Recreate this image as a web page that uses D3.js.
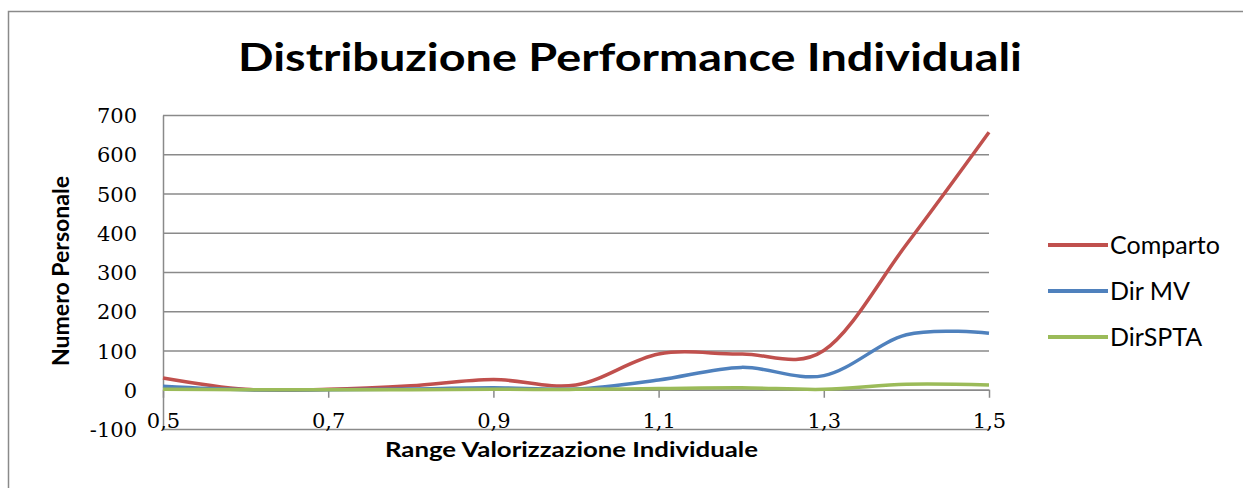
<!DOCTYPE html>
<html>
<head>
<meta charset="utf-8">
<script src="https://cdn.jsdelivr.net/npm/d3@7"></script>
<style>
  body { margin: 0; background: #fff; }
  svg { display: block; }
</style>
</head>
<body>
<div id="chart"></div>
<script>
// data
const xValues = [0.5, 0.6, 0.7, 0.8, 0.9, 1.0, 1.1, 1.2, 1.3, 1.4, 1.5];
const comparto = [30, 1, 1, 10, 26, 12, 91, 91, 100, 370, 656];
const dirMV = [9, 0, 0, 2, 5, 2, 25, 57, 36, 140, 144];
const dirSPTA = [1, 0, 0, 0, 1, 1, 3, 5, 1, 14, 12];
const seriesNames = ['Comparto', 'Dir MV', 'DirSPTA'];
const seriesColors = ['#c0504d', '#4f81bd', '#9bbb59'];
const xTicks = [0.5, 0.7, 0.9, 1.1, 1.3, 1.5];
const yTicks = [-100, 0, 100, 200, 300, 400, 500, 600, 700];

const series = [comparto, dirMV, dirSPTA].map((vals, i) => ({
    name: seriesNames[i],
    color: seriesColors[i],
    points: vals.map((v, j) => ({x: xValues[j], y: v}))
}));

const svgWidth = 1243, svgHeight = 488;
const plot = {left: 163, right: 989, top: 115, bottom: 429};

const svg = d3.select('#chart')
    .append('svg')
    .attr('width', svgWidth)
    .attr('height', svgHeight);

// chart frame (cropped at right and bottom like the reference)
svg.append('rect')
    .attr('x', 8.5).attr('y', 11.5)
    .attr('width', 1400).attr('height', 700)
    .attr('fill', '#fff')
    .attr('stroke', '#8a8a8a')
    .attr('stroke-width', 1.5);

const x = d3.scaleLinear().domain([0.5, 1.5]).range([plot.left, plot.right]);
const y = d3.scaleLinear().domain([-100, 700]).range([plot.bottom, plot.top]);

// title
svg.append('text')
    .attr('x', (238 + 1022) / 2).attr('y', 71)
    .attr('text-anchor', 'middle')
    .attr('textLength', 784).attr('lengthAdjust', 'spacingAndGlyphs')
    .style('font-family', 'Lato, "Open Sans", sans-serif')
    .style('font-weight', 700)
    .style('font-size', '39px')
    .text('Distribuzione Performance Individuali');

// y axis + gridlines
const yAxis = svg.append('g')
    .attr('transform', `translate(${plot.left},0)`)
    .call(d3.axisLeft(y).tickValues(yTicks)
        .tickSize(-(plot.right - plot.left)).tickSizeOuter(0).tickPadding(26)
        .tickFormat(d => String(d)));
yAxis.select('.domain').attr('stroke', '#8a8a8a').attr('stroke-width', 1.5);
yAxis.selectAll('.tick line').attr('stroke', '#8a8a8a').attr('stroke-width', 1.5);
yAxis.selectAll('.tick text')
    .attr('dy', '0.36em')
    .style('font-family', '"DejaVu Serif", serif')
    .style('font-size', '21px')
    .attr('fill', '#000');

// x axis crossing at 0
const xAxis = svg.append('g')
    .attr('transform', `translate(0,${y(0)})`)
    .call(d3.axisBottom(x).tickValues(xTicks).tickSize(8).tickSizeOuter(0)
        .tickFormat(d => d3.format('.1f')(d).replace('.', ',')));
xAxis.select('.domain').attr('stroke', '#8a8a8a').attr('stroke-width', 1.5);
xAxis.selectAll('.tick line').attr('stroke', '#8a8a8a').attr('stroke-width', 1.5);
xAxis.selectAll('.tick text')
    .attr('y', plot.bottom - y(0) - 1)
    .attr('dy', 0)
    .style('font-family', '"DejaVu Serif", serif')
    .style('font-size', '21px')
    .attr('fill', '#000');

// axis titles
svg.append('text')
    .attr('transform', `translate(69,271) rotate(-90)`)
    .attr('text-anchor', 'middle')
    .attr('textLength', 190).attr('lengthAdjust', 'spacingAndGlyphs')
    .style('font-family', 'Lato, "Open Sans", sans-serif')
    .style('font-weight', 700)
    .style('font-size', '22px')
    .text('Numero Personale');

svg.append('text')
    .attr('x', (385 + 758) / 2).attr('y', 457)
    .attr('text-anchor', 'middle')
    .attr('textLength', 373).attr('lengthAdjust', 'spacingAndGlyphs')
    .style('font-family', 'Lato, "Open Sans", sans-serif')
    .style('font-weight', 700)
    .style('font-size', '21px')
    .text('Range Valorizzazione Individuale');

// smoothed lines
const line = d3.line()
    .x(d => x(d.x))
    .y(d => y(d.y))
    .curve(d3.curveCardinal.tension(0));

svg.append('g').selectAll('path')
    .data(series)
    .join('path')
    .attr('d', d => line(d.points))
    .attr('fill', 'none')
    .attr('stroke', d => d.color)
    .attr('stroke-width', 3.5)
    .attr('stroke-linejoin', 'round');

// legend
const legend = svg.append('g')
    .selectAll('g')
    .data(series)
    .join('g')
    .attr('transform', (d, i) => `translate(1048,${245 + i * 46})`);
legend.append('line')
    .attr('x1', 0).attr('x2', 60)
    .attr('stroke', d => d.color)
    .attr('stroke-width', 4);
legend.append('text')
    .attr('x', 62).attr('dy', '0.35em')
    .style('font-family', 'Lato, "Open Sans", sans-serif')
    .style('font-size', '25px')
    .text(d => d.name);
</script>
</body>
</html>
